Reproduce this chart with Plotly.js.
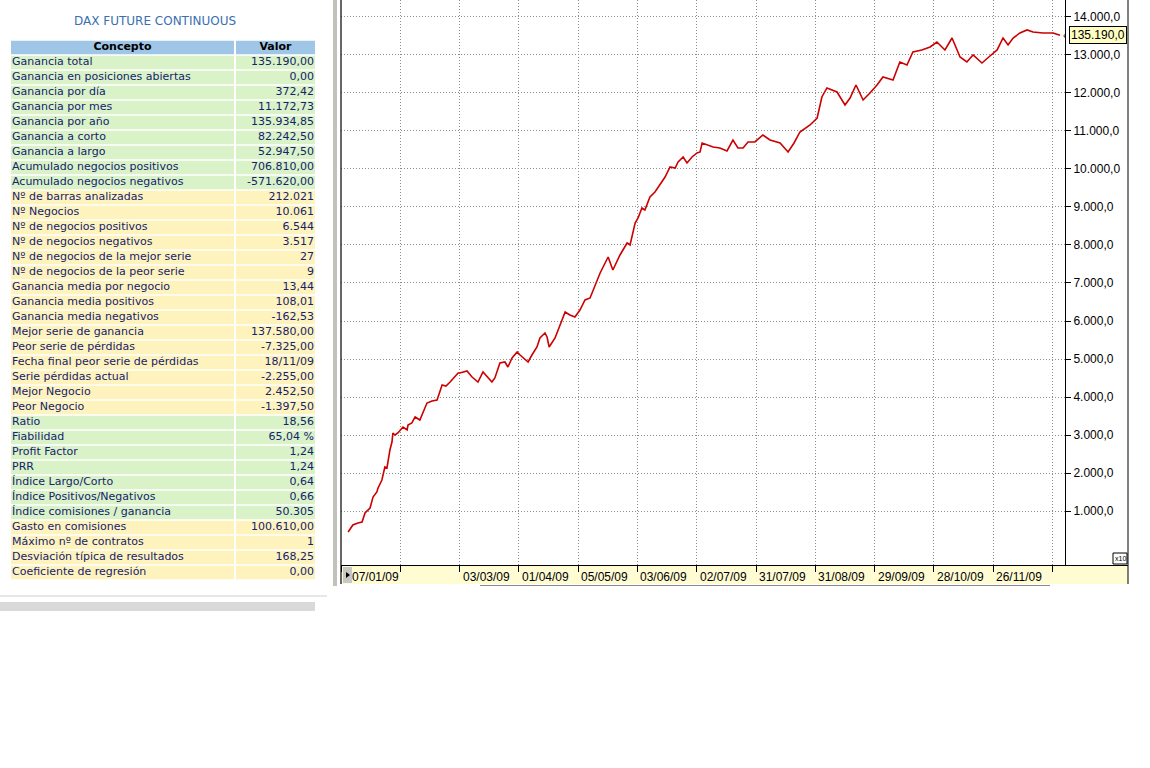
<!DOCTYPE html>
<html>
<head>
<meta charset="utf-8">
<script src="https://cdn.plot.ly/plotly-3.0.1.min.js"></script>
<style>
html,body{margin:0;padding:0;background:#ffffff;}
#chart{width:1150px;height:768px;}
</style>
</head>
<body>
<div id="chart"></div>
<script>
// ---------------- DATA ----------------
const tituloTabla = 'DAX FUTURE CONTINUOUS';
const encabezados = ['Concepto', 'Valor'];
const concepto = [
  'Ganancia total','Ganancia en posiciones abiertas','Ganancia por día','Ganancia por mes',
  'Ganancia por año','Ganancia a corto','Ganancia a largo','Acumulado negocios positivos',
  'Acumulado negocios negativos','Nº de barras analizadas','Nº Negocios','Nº de negocios positivos',
  'Nº de negocios negativos','Nº de negocios de la mejor serie','Nº de negocios de la peor serie',
  'Ganancia media por negocio','Ganancia media positivos','Ganancia media negativos',
  'Mejor serie de ganancia','Peor serie de pérdidas','Fecha final peor serie de pérdidas',
  'Serie pérdidas actual','Mejor Negocio','Peor Negocio','Ratio','Fiabilidad','Profit Factor','PRR',
  'Índice Largo/Corto','Índice Positivos/Negativos','Índice comisiones / ganancia',
  'Gasto en comisiones','Máximo nº de contratos','Desviación típica de resultados','Coeficiente de regresión'
];
const valor = [
  '135.190,00','0,00','372,42','11.172,73','135.934,85','82.242,50','52.947,50','706.810,00',
  '-571.620,00','212.021','10.061','6.544','3.517','27','9','13,44','108,01','-162,53',
  '137.580,00','-7.325,00','18/11/09','-2.255,00','2.452,50','-1.397,50','18,56','65,04 %',
  '1,24','1,24','0,64','0,66','50.305','100.610,00','1','168,25','0,00'
];
// section of each row (A = results block, B = counts block)
const seccion = [
  'A','A','A','A','A','A','A','A','A',
  'B','B','B','B','B','B','B','B','B','B','B','B','B','B','B',
  'A','A','A','A','A','A','A',
  'B','B','B','B'
];

// equity curve (axis units, x10)
const sesion = [
  2.4,4.0,5.7,7.1,8.1,9.1,9.8,10.8,12.1,12.5,
  13.8,14.8,15.5,16.5,17.2,17.5,18.2,19.2,20.9,22.3,
  22.6,23.9,25.0,26.6,27.7,29.0,30.7,32.4,34.1,35.4,
  36.8,39.5,40.1,42.5,44.2,46.2,47.9,49.6,50.9,51.9,
  53.6,55.3,56.3,57.7,59.4,60.4,62.1,63.1,64.4,66.1,
  67.1,68.8,69.5,70.2,72.2,73.2,74.5,75.6,77.2,78.9,
  80.6,82.3,84.0,86.4,87.4,90.1,91.7,94.1,96.5,97.5,
  99.2,100.2,101.5,102.5,104.2,105.9,107.6,109.3,111.0,112.7,
  113.7,115.4,116.7,118.4,120.1,121.1,121.8,123.5,125.5,127.8,
  130.2,132.2,133.9,135.6,137.3,139.6,141.3,142.3,144.7,148.1,
  150.8,152.8,154.8,158.2,160.6,162.2,163.9,165.6,167.3,170.0,
  171.7,173.7,176.1,178.4,180.8,182.8,186.2,188.5,190.9,192.9,
  195.9,198.7,201.0,203.7,206.1,208.8,211.1,213.2,216.2,218.9,
  221.3,223.3,225.0,226.7,229.0,231.4,233.4,236.8,240.2,242.5
];
const equity = [
  447,632,684,711,947,1026,1079,1368,1500,1605,
  1816,2158,2132,2605,2816,3053,3000,3053,3211,3132,
  3263,3316,3474,3395,3579,3842,3895,3921,4316,4289,
  4395,4632,4632,4684,4526,4395,4658,4500,4395,4500,
  4895,4921,4789,5026,5184,5105,4974,4921,5105,5316,
  5553,5684,5579,5316,5553,5763,6026,6237,6158,6105,
  6289,6553,6605,7079,7263,7684,7342,7737,8053,8000,
  8579,8711,8974,8921,9263,9395,9579,9789,10053,10026,
  10184,10316,10158,10316,10421,10447,10684,10632,10579,10553,
  10474,10763,10553,10553,10711,10711,10816,10895,10763,10684,
  10447,10684,10974,11158,11342,11895,12132,12079,12026,11684,
  11868,12211,11816,12000,12211,12421,12342,12816,12737,13079,
  13132,13211,13342,13132,13447,12947,12816,13000,12789,12974,
  13132,13447,13263,13447,13579,13658,13605,13579,13579,13519
];
const tickSesion = [0,20,40,60,80,100,120,140,160,180,200,220,240];
const tickFecha = ['07/01/09','','03/03/09','01/04/09','05/05/09','03/06/09','02/07/09',
                   '31/07/09','31/08/09','29/09/09','28/10/09','26/11/09',''];
const yTicks = [1000,2000,3000,4000,5000,6000,7000,8000,9000,10000,11000,12000,13000,14000];
const escala = 10;

// ---------------- STYLE / GEOMETRY ----------------
const W = 1150, H = 768;
const px = v => v / W;
const py = v => 1 - v / H;
const FONT_TAB = 'DejaVu Sans, Verdana, sans-serif';
const FONT_CH = 'Liberation Sans, Arial, sans-serif';
const colorSeccion = {A: '#d9f2c7', B: '#fff3bd'};
const colorHeader = '#9fc6e6';
const colorTexto = '#14236e';
const GRID = '#8c8c8c';
const GRID_DASH = '1px,2px';

function fmtNum(v) {
  const s = v.toFixed(1);
  const parts = s.split('.');
  return parts[0].replace(/\B(?=(\d{3})+(?!\d))/g, '.') + ',' + parts[1];
}

const filas = concepto.map((_, i) => i);
const filasConHeader = [-1].concat(filas);
const coloresFila = [colorHeader].concat(seccion.map(s => colorSeccion[s]));

const traces = [];
// table backgrounds (column 1 and column 2)
traces.push({
  type: 'bar', orientation: 'h', xaxis: 'x2', yaxis: 'y2',
  y: filasConHeader, x: filasConHeader.map(() => 223), base: 0, width: 0.9,
  marker: {color: coloresFila, line: {width: 0}}, hoverinfo: 'skip', showlegend: false
});
traces.push({
  type: 'bar', orientation: 'h', xaxis: 'x2', yaxis: 'y2',
  y: filasConHeader, x: filasConHeader.map(() => 79), base: 225, width: 0.9,
  marker: {color: coloresFila, line: {width: 0}}, hoverinfo: 'skip', showlegend: false
});
// table texts
traces.push({
  type: 'scatter', mode: 'text', xaxis: 'x2', yaxis: 'y2',
  x: filas.map(() => 1), y: filas, text: concepto, textposition: 'middle right',
  textfont: {family: FONT_TAB, size: 11, color: colorTexto}, cliponaxis: false,
  hoverinfo: 'skip', showlegend: false
});
traces.push({
  type: 'scatter', mode: 'text', xaxis: 'x2', yaxis: 'y2',
  x: filas.map(() => 303), y: filas, text: valor, textposition: 'middle left',
  textfont: {family: FONT_TAB, size: 11, color: colorTexto}, cliponaxis: false,
  hoverinfo: 'skip', showlegend: false
});
traces.push({
  type: 'scatter', mode: 'text', xaxis: 'x2', yaxis: 'y2',
  x: [111.5, 264.5], y: [-1, -1], text: encabezados, textposition: 'middle center',
  textfont: {family: FONT_TAB, size: 11, color: '#000000', weight: 'bold'}, cliponaxis: false,
  hoverinfo: 'skip', showlegend: false
});
// equity line
traces.push({
  type: 'scatter', mode: 'lines', x: sesion, y: equity, xaxis: 'x', yaxis: 'y',
  line: {color: '#cc0000', width: 1.6}, hoverinfo: 'skip', showlegend: false
});

const ultimo = equity[equity.length - 1];

const annotations = [];
annotations.push({
  xref: 'paper', yref: 'paper', x: px(155), y: py(21), xanchor: 'center', yanchor: 'middle',
  text: tituloTabla, showarrow: false, font: {family: FONT_TAB, size: 12, color: '#3a6fb0'}
});
tickSesion.forEach((s, i) => {
  if (!tickFecha[i]) return;
  annotations.push({
    xref: 'x', yref: 'paper', x: s, y: py(577), xanchor: 'left', yanchor: 'middle',
    xshift: i === 0 ? 9 : 1, text: tickFecha[i], showarrow: false,
    font: {family: FONT_CH, size: 12, color: '#000000'}
  });
});
annotations.push({
  xref: 'paper', yref: 'y', x: px(1069), y: ultimo, xanchor: 'left', yanchor: 'middle',
  text: fmtNum(ultimo * escala), showarrow: false, bgcolor: '#ffffc4', bordercolor: '#000000',
  borderwidth: 1, borderpad: 1, font: {family: FONT_CH, size: 12, color: '#000000'}
});
annotations.push({
  xref: 'paper', yref: 'y', x: px(1068), y: ultimo, xanchor: 'right', yanchor: 'middle',
  text: '‹', showarrow: false, font: {family: FONT_CH, size: 10, color: '#000000'}
});
annotations.push({
  xref: 'paper', yref: 'paper', x: px(1120), y: py(558.5), xanchor: 'center', yanchor: 'middle',
  text: 'x' + escala, showarrow: false, font: {family: FONT_CH, size: 7, color: '#000000'}
});

const shapes = [
  // left gray splitter bar
  {type: 'rect', xref: 'paper', yref: 'paper', x0: px(333), x1: px(337), y0: py(586), y1: py(0),
   fillcolor: '#c2c2ba', line: {width: 0}, layer: 'below'},
  // x-axis yellow band
  {type: 'rect', xref: 'paper', yref: 'paper', x0: px(341), x1: px(1128), y0: py(584), y1: py(565.5),
   fillcolor: '#fffcd4', line: {width: 0}, layer: 'below'},
  // left border
  {type: 'line', xref: 'paper', yref: 'paper', x0: px(341), x1: px(341), y0: py(584), y1: py(0),
   line: {color: '#000000', width: 1.2}},
  // right border
  {type: 'line', xref: 'paper', yref: 'paper', x0: px(1128), x1: px(1128), y0: py(584), y1: py(0),
   line: {color: '#000000', width: 1}},
  // axis line continuation under the price scale
  {type: 'line', xref: 'paper', yref: 'paper', x0: px(1065), x1: px(1128), y0: py(565.5), y1: py(565.5),
   line: {color: '#000000', width: 1}},
  // scroll arrow button
  {type: 'rect', xref: 'paper', yref: 'paper', x0: px(343), x1: px(352), y0: py(583), y1: py(567),
   fillcolor: '#c8c8c8', line: {width: 0}},
  {type: 'path', xref: 'paper', yref: 'paper',
   path: 'M ' + px(346) + ' ' + py(572) + ' L ' + px(350) + ' ' + py(575) + ' L ' + px(346) + ' ' + py(578) + ' Z',
   fillcolor: '#000000', line: {width: 0}},
  // bottom scrollbar trace
  {type: 'line', xref: 'paper', yref: 'paper', x0: px(480), x1: px(1050), y0: py(585.5), y1: py(585.5),
   line: {color: '#8a8a8a', width: 1}},
  // x10 box
  {type: 'rect', xref: 'paper', yref: 'paper', x0: px(1113), x1: px(1127), y0: py(564), y1: py(553),
   fillcolor: '#ffffff', line: {color: '#000000', width: 1}},
  // under-table separators
  {type: 'line', xref: 'paper', yref: 'paper', x0: 0, x1: px(327), y0: py(596), y1: py(596),
   line: {color: '#cfcfcf', width: 1}},
  {type: 'rect', xref: 'paper', yref: 'paper', x0: 0, x1: px(315), y0: py(611), y1: py(602),
   fillcolor: '#d9d9d9', line: {width: 0}}
];

const layout = {
  width: W, height: H, autosize: false,
  margin: {l: 0, r: 0, t: 0, b: 0, pad: 0},
  paper_bgcolor: '#ffffff', plot_bgcolor: '#ffffff',
  separators: ',.',
  barmode: 'overlay',
  showlegend: false,
  xaxis: {
    domain: [px(341), px(1065)], range: [0, 244.2], anchor: 'y',
    tickvals: tickSesion, showticklabels: false,
    ticks: 'outside', ticklen: 6, tickwidth: 1, tickcolor: '#000000',
    showgrid: true, gridcolor: GRID, gridwidth: 1, griddash: GRID_DASH,
    showline: true, linecolor: '#000000', linewidth: 1, zeroline: false, fixedrange: true
  },
  yaxis: {
    domain: [py(565), 1], range: [-421, 14447], anchor: 'x', side: 'right',
    tickvals: yTicks, tickformat: ',.1f',
    ticks: 'outside', ticklen: 5, tickwidth: 1, tickcolor: '#000000',
    tickfont: {family: FONT_CH, size: 12, color: '#000000'},
    showgrid: true, gridcolor: GRID, gridwidth: 1, griddash: GRID_DASH,
    showline: true, linecolor: '#000000', linewidth: 1, zeroline: false, fixedrange: true
  },
  xaxis2: {domain: [px(11), px(315)], range: [0, 304], anchor: 'y2', visible: false, fixedrange: true},
  yaxis2: {domain: [py(580), py(40)], range: [34.5, -1.5], anchor: 'x2', visible: false, fixedrange: true},
  annotations: annotations,
  shapes: shapes
};

Plotly.newPlot('chart', traces, layout, {displayModeBar: false, staticPlot: true});
</script>
</body>
</html>
